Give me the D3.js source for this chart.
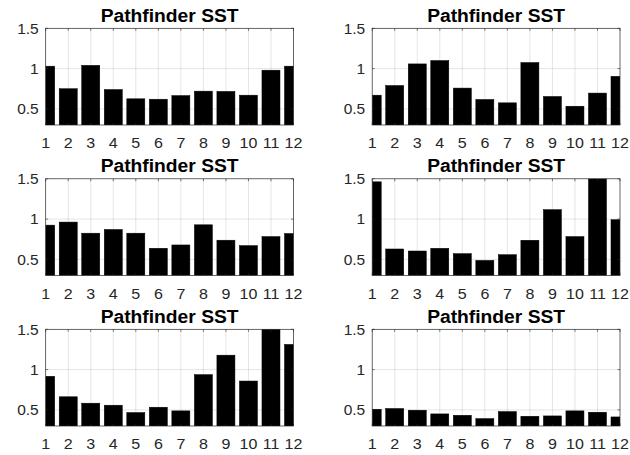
<!DOCTYPE html>
<html>
<head>
<meta charset="utf-8">
<script src="https://cdn.jsdelivr.net/npm/d3@7"></script>
<style>
  html, body { margin: 0; padding: 0; background: #fff; }
  svg { display: block; }
  .tick-label { font-family: "Liberation Sans", Arial, sans-serif; fill: #262626; }
  .title { font-family: "Liberation Sans", Arial, sans-serif; font-weight: bold; fill: #000; }
</style>
</head>
<body>
<svg id="chart" width="630" height="455"></svg>
<script>
// Months along the x axis
const months = [1, 2, 3, 4, 5, 6, 7, 8, 9, 10, 11, 12];

// Monthly SST values, one array per subplot (row-major order)
const sstA = [1.03, 0.75, 1.04, 0.74, 0.625, 0.62, 0.665, 0.72, 0.717, 0.67, 0.98, 1.03];
const sstB = [0.67, 0.79, 1.058, 1.10, 0.758, 0.617, 0.575, 1.075, 0.654, 0.533, 0.696, 0.904];
const sstC = [0.925, 0.963, 0.825, 0.871, 0.825, 0.638, 0.679, 0.929, 0.738, 0.671, 0.783, 0.821];
const sstD = [1.4625, 0.629, 0.604, 0.6375, 0.571, 0.4875, 0.558, 0.7375, 1.117, 0.783, 1.6, 0.992];
const sstE = [0.917, 0.6625, 0.583, 0.558, 0.467, 0.533, 0.4875, 0.9375, 1.179, 0.858, 1.6, 1.3125];
const sstF = [0.508, 0.517, 0.496, 0.45, 0.433, 0.392, 0.479, 0.421, 0.425, 0.4875, 0.471, 0.4125];

const panelSeries = [sstA, sstB, sstC, sstD, sstE, sstF];
const panelTitle = "Pathfinder SST";

// Axis ticks and limits
const yTicks = [0.5, 1, 1.5];
const yTickLabels = ["0.5", "1", "1.5"];
const yLimits = [0.3, 1.5];
const xLimits = [1, 12];
const barWidth = 0.8;

// Subplot geometry
const colLeft = [45.7, 372.2];
const rowTop = [28.3, 178.8, 329.3];
const axW = 247.8;
const axH = 96.7;
const textStretch = 1.07; // glyphs are drawn slightly wide

const svg = d3.select("#chart");
const axisColor = "#262626";

// place a text element at (px, py) with horizontal stretch
function placeText(sel, px, py) {
  sel.attr("transform", (d, k) =>
    `translate(${typeof px === "function" ? px(d, k) : px},${typeof py === "function" ? py(d, k) : py}) scale(${textStretch},1)`);
}

panelSeries.forEach((values, i) => {
  const col = i % 2, row = Math.floor(i / 2);
  const g = svg.append("g")
    .attr("transform", `translate(${colLeft[col]},${rowTop[row]})`);

  const x = d3.scaleLinear().domain(xLimits).range([0, axW]);
  const y = d3.scaleLinear().domain(yLimits).range([axH, 0]);

  const clipId = `clip-${i}`;
  g.append("clipPath").attr("id", clipId)
    .append("rect").attr("x", 0).attr("y", 0).attr("width", axW).attr("height", axH);

  // grid lines
  const grid = g.append("g").attr("stroke", axisColor).attr("stroke-opacity", 0.15).attr("stroke-width", 0.8);
  grid.selectAll("line.vx").data(months.slice(1, -1)).join("line")
    .attr("x1", d => x(d)).attr("x2", d => x(d))
    .attr("y1", 0).attr("y2", axH);
  grid.selectAll("line.hy").data(yTicks.filter(t => t < yLimits[1])).join("line")
    .attr("x1", 0).attr("x2", axW)
    .attr("y1", d => y(d)).attr("y2", d => y(d));

  // bars
  g.append("g").attr("clip-path", `url(#${clipId})`)
    .selectAll("rect").data(months).join("rect")
    .attr("x", (d) => x(d - barWidth / 2))
    .attr("width", x(1 + barWidth) - x(1))
    .attr("y", (d, k) => y(values[k]))
    .attr("height", (d, k) => y(yLimits[0]) - y(values[k]))
    .attr("fill", "#000")
    .attr("stroke", "#000")
    .attr("stroke-width", 0.5);

  // inward tick marks on box edges
  const tickLen = 2.5;
  const ticks = g.append("g").attr("stroke", axisColor).attr("stroke-width", 0.6);
  months.forEach(m => {
    ticks.append("line").attr("x1", x(m)).attr("x2", x(m)).attr("y1", axH).attr("y2", axH - tickLen);
    ticks.append("line").attr("x1", x(m)).attr("x2", x(m)).attr("y1", 0).attr("y2", tickLen);
  });
  yTicks.forEach(t => {
    ticks.append("line").attr("x1", 0).attr("x2", tickLen).attr("y1", y(t)).attr("y2", y(t));
    ticks.append("line").attr("x1", axW).attr("x2", axW - tickLen).attr("y1", y(t)).attr("y2", y(t));
  });

  // axes box
  g.append("rect")
    .attr("x", 0).attr("y", 0).attr("width", axW).attr("height", axH)
    .attr("fill", "none").attr("stroke", axisColor).attr("stroke-width", 0.7);

  // x tick labels
  g.append("g").selectAll("text").data(months).join("text")
    .attr("class", "tick-label")
    .attr("text-anchor", "middle")
    .attr("font-size", 15)
    .text(d => String(d))
    .call(placeText, d => x(d), axH + 23);

  // y tick labels
  g.append("g").selectAll("text").data(yTicks).join("text")
    .attr("class", "tick-label")
    .attr("dy", "0.36em")
    .attr("text-anchor", "end")
    .attr("font-size", 14.5)
    .text((d, k) => yTickLabels[k])
    .call(placeText, -7, d => y(d));

  // title
  g.append("text")
    .attr("class", "title")
    .attr("text-anchor", "middle")
    .attr("font-size", 18)
    .text(panelTitle)
    .call(placeText, axW / 2, -6.5);
});
</script>
</body>
</html>
